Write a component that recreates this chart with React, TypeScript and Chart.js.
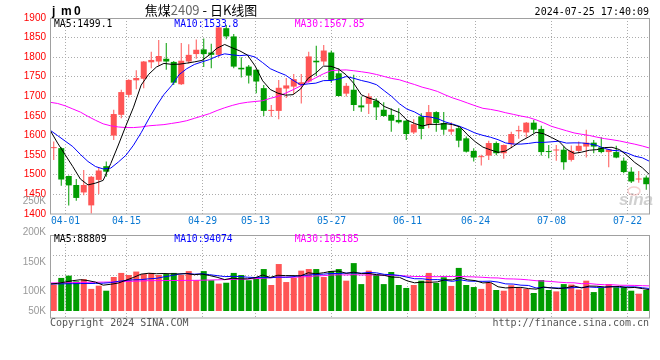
import React, { useEffect, useRef } from 'react';
import { Chart, registerables } from 'chart.js';

Chart.register(...registerables);

// ---------------- data ----------------
const dates = ['03-28','03-29','04-01','04-02','04-03','04-08','04-09','04-10','04-11','04-12','04-15','04-16','04-17','04-18','04-19','04-22','04-23','04-24','04-25','04-26','04-29','04-30','05-06','05-07','05-08','05-09','05-10','05-13','05-14','05-15','05-16','05-17','05-20','05-21','05-22','05-23','05-24','05-27','05-28','05-29','05-30','05-31','06-03','06-04','06-05','06-06','06-07','06-11','06-12','06-13','06-14','06-17','06-18','06-19','06-20','06-21','06-24','06-25','06-26','06-27','06-28','07-01','07-02','07-03','07-04','07-05','07-08','07-09','07-10','07-11','07-12','07-15','07-16','07-17','07-18','07-19','07-22','07-23','07-24','07-25'];

const open = [1568,1568,1497,1474,1455,1422,1487,1522,1600,1653,
  1704,1741,1745,1787,1789,1796,1788,1731,1789,1808,
  1820,1812,1806,1874,1853,1773,1776,1768,1721,1663,
  1663,1720,1725,1729,1738,1791,1789,1812,1759,1707,
  1717,1677,1681,1689,1666,1653,1640,1638,1608,1649,
  1627,1660,1632,1610,1619,1593,1561,1545,1549,1581,
  1555,1578,1611,1608,1633,1617,1560,1562,1564,1538,
  1561,1572,1582,1570,1558,1558,1536,1508,1488,1493];
const high = [1585,1570,1498,1489,1512,1497,1518,1534,1666,1717,
  1744,1767,1790,1814,1844,1836,1790,1836,1833,1845,
  1848,1834,1877,1882,1859,1800,1780,1768,1729,1678,
  1742,1747,1757,1757,1814,1829,1831,1817,1772,1734,
  1755,1700,1708,1695,1685,1670,1670,1640,1642,1657,
  1678,1662,1660,1634,1623,1598,1568,1551,1587,1585,
  1577,1610,1625,1635,1640,1625,1576,1576,1572,1575,
  1585,1615,1589,1596,1566,1574,1544,1519,1510,1498];
const low = [1538,1472,1422,1434,1448,1401,1451,1495,1589,1644,
  1697,1718,1721,1772,1778,1768,1729,1729,1784,1796,
  1775,1772,1800,1846,1772,1748,1733,1708,1650,1648,
  1642,1696,1706,1682,1735,1752,1780,1735,1700,1700,
  1663,1661,1655,1640,1648,1610,1631,1589,1604,1591,
  1619,1610,1602,1602,1570,1557,1534,1524,1538,1550,
  1541,1568,1592,1595,1606,1549,1542,1536,1513,1534,
  1555,1544,1555,1555,1519,1542,1504,1479,1480,1462];
const close = [1570,1488,1473,1441,1474,1495,1511,1508,1655,1711,
  1742,1747,1789,1793,1803,1789,1735,1791,1806,1819,
  1808,1806,1876,1853,1776,1769,1753,1738,1663,1665,
  1722,1728,1744,1736,1802,1787,1817,1742,1701,1727,
  1678,1672,1700,1672,1650,1638,1634,1604,1629,1617,
  1660,1632,1615,1616,1587,1559,1544,1547,1581,1555,
  1576,1604,1614,1633,1615,1558,1558,1564,1532,1561,
  1574,1582,1572,1558,1565,1544,1507,1483,1490,1476];

const ma5 = [1614,1581,1551,1521,1489.2,1474.2,1478.8,1485.8,1528.6,1576,
  1625.4,1672.6,1728.8,1756.4,1774.8,1784.2,1781.8,1782.2,1784.8,1788,
  1791.8,1806,1823,1832.4,1823.8,1816,1805.4,1777.8,1739.8,1717.6,
  1708.2,1703.2,1704.4,1719,1746.4,1759.4,1777.2,1776.8,1769.8,1754.8,
  1733,1704,1695.6,1689.8,1674.4,1666.4,1658.8,1639.6,1631,1624.4,
  1628.8,1628.4,1630.6,1628,1622,1601.8,1584.2,1570.6,1563.6,1557.2,
  1560.6,1572.6,1586,1596.4,1608.4,1604.8,1595.6,1585.6,1565.4,1554.6,
  1557.8,1562.6,1564.2,1569.4,1570.2,1564.2,1549.2,1531.4,1517.8,1499.1];
const ma10 = [1614,1600,1586,1572,1552,1534,1521,1515,1517,1532.6,
  1549.8,1575.7,1607.3,1642.5,1675.4,1704.8,1727.2,1755.5,1770.6,1781.4,
  1788,1793.9,1802.6,1808.6,1805.9,1803.9,1805.7,1800.4,1786.1,1770.7,
  1762.1,1754.3,1741.1,1729.4,1732,1733.8,1740.2,1740.6,1744.4,1750.6,
  1746.2,1740.6,1736.2,1729.8,1714.6,1699.7,1681.4,1667.6,1660.4,1649.4,
  1647.6,1643.6,1635.1,1629.5,1623.2,1615.3,1606.3,1600.6,1595.8,1589.6,
  1581.2,1578.4,1578.3,1580,1582.8,1582.7,1584.1,1585.8,1580.9,1581.5,
  1581.3,1579.1,1574.9,1567.4,1562.4,1561,1555.6,1547.5,1543.3,1533.8];
const ma30 = [1685,1682,1676,1668,1660,1649,1639,1630,1625,1622,
  1620.5,1620.5,1622,1625,1626.5,1628,1631,1634,1638,1644,
  1650,1656,1664,1671,1677,1682,1685,1687,1689,1694.9,
  1700,1708,1717,1726.8,1737.8,1747.5,1757.7,1765.5,1767,1767.6,
  1765.4,1762.9,1760,1755.9,1750.8,1745.8,1742.4,1736.2,1730.3,1723.6,
  1718.6,1712.8,1704.1,1696.2,1689.9,1682.9,1676,1669.6,1666.9,1663.2,
  1658.3,1654.2,1649.9,1646.4,1640.2,1632.6,1623.9,1618,1612.4,1606.8,
  1603.4,1600.4,1596.1,1592.3,1589.5,1586.3,1582.1,1578.1,1573.4,1567.85];

// volume in thousands of lots
const volume = [110.8,138.5,148,124.2,133.7,92.6,106,85,142.3,159.5,
  150.9,165.2,154.7,159.5,150.9,154.7,159.5,150.9,167.1,128.9,
  167.1,128.9,114.6,118.4,159.5,150.9,128.9,138.5,175.7,108.9,
  196.7,121.3,138.5,169,175.7,175.7,142.3,167.1,175.7,127,
  200.6,112.7,169,151.8,112.7,163.3,108.9,96.5,108.9,127,
  159.5,117.5,141.3,105,180.5,108.9,100.3,92.6,117.5,87.9,
  85,107.9,96.5,92.6,75.4,129.9,87.9,82.1,112.7,110.8,
  89.8,127,79.3,96.5,112.7,99.3,99.3,85,72.6,87.9];
const volMa5 = [113,115.8,121.5,127,131,127.4,120.9,108.3,111.9,117.1,
  128.7,140.6,154.5,158,156.2,157,155.9,155.1,156.6,152.2,
  154.7,148.6,141.3,131.6,137.7,134.5,134.5,139.2,150.7,140.6,
  149.7,148.2,148.2,146.9,160.2,156,160.2,166,167.3,157.6,
  162.5,156.6,157,152.2,149.4,141.9,141.1,126.6,118,120.9,
  120.1,121.9,130.8,130.1,140.8,130.6,127.2,117.5,119.9,101.4,
  96.6,98.2,98.9,94,91.5,100.5,96.5,93.6,97.6,104.7,
  96.6,104.5,103.9,100.7,101,102.9,97.4,98.6,93.8,88.8];
const volMa10 = [113,113.5,114,114.5,115,115,115.5,116.5,119,124.1,
  128.1,130.7,131.4,134.9,136.7,142.9,148.2,154.8,157.3,154.2,
  155.9,152.2,148.2,144.1,145,144.6,141.5,140.3,141.1,139.1,
  142.1,141.3,143.7,148.8,150.4,152.9,154.2,157.1,157.1,158.9,
  159.3,158.4,161.5,159.8,153.5,152.2,148.9,141.8,135.1,135.1,
  131,131.5,128.7,124.1,130.8,125.4,124.5,124.2,125,121.1,
  113.6,112.7,108.2,107,96.5,98.6,97.3,96.3,95.8,98.1,
  98.6,100.5,98.7,99.1,102.9,99.8,100.9,101.2,97.2,94.1];
const volMa30 = [117.3,117.8,118.3,119,119.7,120.2,120.6,121,121.5,122.5,
  123.5,124.7,125.9,127,127.2,127.4,127.7,128,128.2,128.4,
  129,129.7,130.5,131.5,132.5,133.3,134,135.5,137.3,139.1,
  142,141.4,141.1,142.6,144,146.8,148,150.7,151.8,150.8,
  152.4,150.7,151.2,150.9,149.6,149.9,148.2,146.4,144.5,144.4,
  144.1,143.7,144.7,144.2,144.9,143.5,142.6,141.1,139,138.4,
  134.7,134.2,132.8,130.3,126.9,125.4,123.6,120.7,118.6,118.1,
  114.4,114.9,111.9,110,110,107.9,107.6,107.2,106,105.2];

const priceTicks = [1400,1450,1500,1550,1600,1650,1700,1750,1800,1850,1900];
const gridDates = ['04-01','04-15','04-29','05-13','05-27','06-11','06-24','07-08','07-22'];
const volGridValues = [68, 150, 233];
const volAxisLabels = ['250K','200K','150K','100K','50K'];
const priceLegend = ['MA5:1499.1','MA10:1533.8','MA30:1567.85'];
const volLegend = ['MA5:88809','MA10:94074','MA30:105185'];
const titleParts = ['焦煤','2409',' - ','日K线图'];
const symbolText = 'jm0';
const timeText = '2024-07-25 17:40:09';
const copyText = 'Copyright 2024 SINA.COM';
const urlText = 'http://finance.sina.com.cn';

// ---------------- styles ----------------
const RED = '#ff5555';
const GREEN = '#009c00';
const MA_COLORS = ['#000000', '#0000ff', '#ff00ff'];
const GRID = '#acacac';
const FRAME = '#a0a0a0';
const MONO = "'DejaVu Sans Mono', monospace";
const SANS = "'Liberation Sans', Arial, sans-serif";
const CJK = "'Noto Sans CJK SC', sans-serif";

const candleColors = close.map((c, i) => (c >= open[i] ? RED : GREEN));

function text(ctx: any, s: string, x: number, y: number, color: string, font: string, align: string = 'left') {
  ctx.font = font;
  ctx.fillStyle = color;
  ctx.textAlign = align;
  ctx.textBaseline = 'alphabetic';
  ctx.fillText(s, x, y);
}

function drawGrid(chart: any, yValues: number[], yScaleId: string) {
  const { ctx, chartArea: a, scales } = chart;
  const ys = scales[yScaleId];
  const xg = scales.xg;
  ctx.save();
  ctx.strokeStyle = GRID;
  ctx.lineWidth = 1;
  ctx.setLineDash([1, 2]);
  yValues.forEach((v) => {
    const py = Math.floor(ys.getPixelForValue(v)) + 0.5;
    ctx.beginPath();
    ctx.moveTo(a.left, py);
    ctx.lineTo(a.right, py);
    ctx.stroke();
  });
  gridDates.forEach((d) => {
    const px = Math.round(xg.getPixelForValue(dates.indexOf(d))) + 0.5;
    ctx.beginPath();
    ctx.moveTo(px, a.top);
    ctx.lineTo(px, a.bottom);
    ctx.stroke();
  });
  ctx.restore();
}

function drawFrame(chart: any) {
  const { ctx, chartArea: a } = chart;
  ctx.save();
  ctx.setLineDash([]);
  ctx.strokeStyle = FRAME;
  ctx.lineWidth = 1;
  ctx.strokeRect(a.left + 0.5, a.top + 0.5, a.right - a.left - 1, a.bottom - a.top - 0.5);
  ctx.restore();
}

const pricePlugin = {
  id: 'priceDecor',
  beforeDatasetsDraw(chart: any) {
    drawGrid(chart, priceTicks.filter((v) => v > 1400 && v < 1900), 'y');
    const { ctx } = chart;
    ctx.save();
    ctx.strokeStyle = 'rgba(230,120,120,0.35)';
    ctx.lineWidth = 1.5;
    ctx.beginPath();
    ctx.ellipse(634, 191, 6, 4, 0, 0, Math.PI * 2);
    ctx.stroke();
    text(ctx, 'sina', 619, 205, 'rgba(150,150,150,0.45)', `italic bold 17px ${SANS}`);
    ctx.restore();
  },
  afterDraw(chart: any) {
    const { ctx, scales } = chart;
    drawFrame(chart);
    ctx.save();
    priceTicks.forEach((v) => {
      const py = Math.floor(scales.y.getPixelForValue(v));
      text(ctx, String(v), 46, py + 2.5, '#ff0000', `10px ${SANS}`, 'right');
    });
    gridDates.forEach((d) => {
      const px = Math.round(scales.xg.getPixelForValue(dates.indexOf(d)));
      text(ctx, d, px + 0.5, 224, '#0a78d2', `9.7px ${MONO}`, 'center');
    });
    const lx = [54, 174.3, 294.7];
    priceLegend.forEach((s, k) => text(ctx, s, lx[k], 27.3, MA_COLORS[k], `9.7px ${MONO}`));
    const sx = [52, 61, 74];
    symbolText.split('').forEach((ch, k) => text(ctx, ch, sx[k], 14.7, '#000', `bold 12px ${SANS}`));
    ctx.font = `13px ${CJK}`;
    const widths = titleParts.map((p) => ctx.measureText(p).width);
    const total = widths.reduce((s, w) => s + w, 0);
    let tx = 201 - total / 2;
    titleParts.forEach((p, k) => {
      text(ctx, p, tx, 14.5, k === 1 ? '#666666' : '#000000', `13px ${CJK}`);
      tx += widths[k];
    });
    text(ctx, timeText, 649, 15, '#000', `10px ${MONO}`, 'right');
    ctx.restore();
  },
};

const volPlugin = {
  id: 'volDecor',
  beforeDatasetsDraw(chart: any) {
    drawGrid(chart, volGridValues, 'y');
  },
  afterDraw(chart: any) {
    const { ctx } = chart;
    drawFrame(chart);
    ctx.save();
    const ly = [203.5, 234.5, 265, 294, 313.5];
    volAxisLabels.forEach((s, k) => text(ctx, s, 46, ly[k], '#999999', `10px ${SANS}`, 'right'));
    const lx = [54, 174.3, 294.7];
    volLegend.forEach((s, k) => text(ctx, s, lx[k], 241.7, MA_COLORS[k], `9.7px ${MONO}`));
    text(ctx, copyText, 50, 326, '#555555', `10px ${MONO}`);
    text(ctx, urlText, 649, 326, '#555555', `10px ${MONO}`, 'right');
    ctx.restore();
  },
};

function maDataset(label: string, values: number[], color: string) {
  return {
    type: 'line',
    label,
    data: values.map((v, i) => ({ x: i, y: v })),
    xAxisID: 'xg',
    yAxisID: 'y',
    borderColor: color,
    borderWidth: 1,
    pointRadius: 0,
    tension: 0,
    fill: false,
    order: 0,
  };
}

const baseOptions = (padTop: number, padBottom: number, yMin: number, yMax: number) => ({
  responsive: false,
  animation: false,
  devicePixelRatio: 1,
  events: [],
  layout: { padding: { left: 50, right: 10, top: padTop, bottom: padBottom } },
  plugins: { legend: { display: false }, tooltip: { enabled: false } },
  scales: {
    x: { type: 'category', display: false, offset: true, grid: { display: false } },
    xg: {
      type: 'linear', axis: 'x', position: 'bottom', display: false,
      offset: false, bounds: 'ticks', grace: 0,
      min: 0, max: dates.length - 1, grid: { offset: false },
    },
    y: { type: 'linear', display: false, min: yMin, max: yMax },
  },
});

export default function App() {
  const priceRef = useRef<HTMLCanvasElement>(null);
  const volRef = useRef<HTMLCanvasElement>(null);

  useEffect(() => {
    const priceChart = new Chart(priceRef.current as any, {
      type: 'bar',
      data: {
        labels: dates,
        datasets: [
          maDataset('MA5', ma5, MA_COLORS[0]),
          maDataset('MA10', ma10, MA_COLORS[1]),
          maDataset('MA30', ma30, MA_COLORS[2]),
          {
            type: 'bar',
            label: 'wick',
            data: low.map((l, i) => [l, high[i]]),
            xAxisID: 'x',
            yAxisID: 'y',
            backgroundColor: candleColors,
            barThickness: 1,
            grouped: false,
            inflateAmount: 0,
            order: 2,
          },
          {
            type: 'bar',
            label: 'body',
            data: open.map((o, i) => [o, close[i]]),
            xAxisID: 'x',
            yAxisID: 'y',
            backgroundColor: candleColors,
            barThickness: 6,
            minBarLength: 1,
            grouped: false,
            inflateAmount: 0,
            order: 1,
          },
        ],
      } as any,
      options: baseOptions(18, 146, 1400, 1900) as any,
      plugins: [pricePlugin as any],
    });

    const volChart = new Chart(volRef.current as any, {
      type: 'bar',
      data: {
        labels: dates,
        datasets: [
          maDataset('MA5', volMa5, MA_COLORS[0]),
          maDataset('MA10', volMa10, MA_COLORS[1]),
          maDataset('MA30', volMa30, MA_COLORS[2]),
          {
            type: 'bar',
            label: 'volume',
            data: volume,
            xAxisID: 'x',
            yAxisID: 'y',
            backgroundColor: candleColors,
            barThickness: 6,
            grouped: false,
            inflateAmount: 0,
            order: 1,
          },
        ],
      } as any,
      options: baseOptions(235, 42, -29.3, 318.3) as any,
      plugins: [volPlugin as any],
    });

    return () => {
      priceChart.destroy();
      volChart.destroy();
    };
  }, []);

  return (
    <div style={{ position: 'absolute', left: 0, top: 0, width: 660, height: 360, background: '#ffffff' }}>
      <canvas ref={priceRef} width={660} height={360} style={{ position: 'absolute', left: 0, top: 0 }} />
      <canvas ref={volRef} width={660} height={360} style={{ position: 'absolute', left: 0, top: 0 }} />
    </div>
  );
}
